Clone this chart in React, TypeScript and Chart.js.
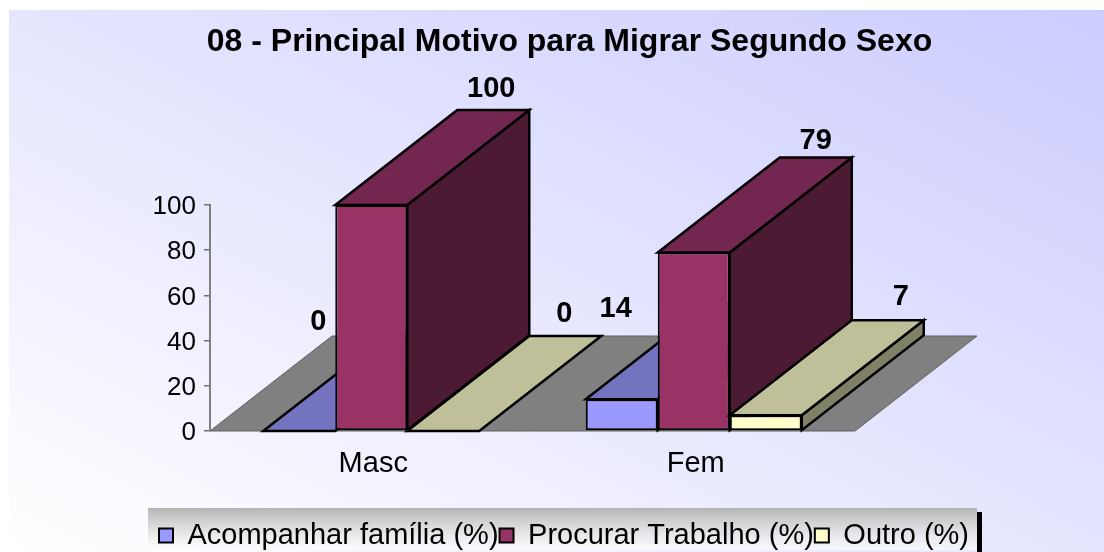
import React, { useEffect, useRef } from "react";
import { Chart, registerables } from "chart.js";

Chart.register(...registerables);

const categories = ["Masc", "Fem"];
const acompanharFamilia = [0, 14];
const procurarTrabalho = [100, 79];
const outro = [0, 7];
const yTicks = [0, 20, 40, 60, 80, 100];

const FONT = "'Liberation Sans', Arial, sans-serif";
const DEPTH_X = 122;
const DEPTH_Y = -95;

// per-dataset label displacement from the top-centre of each bar's front face
const labelNudges = [
  [[19, -109], [-6, -90]],
  [[120, -116], [122, -111]],
  [[121, -117], [135, -118]],
];
const topFaces = ["#7373BF", "#732650", "#BFBF99"];
const sideFaces = ["#4D4D80", "#4D1A33", "#808066"];

function poly(ctx: CanvasRenderingContext2D, pts: number[][], fill: string, stroke: string, lw: number) {
  ctx.beginPath();
  pts.forEach((p, i) => (i ? ctx.lineTo(p[0], p[1]) : ctx.moveTo(p[0], p[1])));
  ctx.closePath();
  ctx.fillStyle = fill;
  ctx.fill();
  ctx.lineWidth = lw;
  ctx.strokeStyle = stroke;
  ctx.lineJoin = "miter";
  ctx.stroke();
}

const backdrop = {
  id: "backdrop",
  beforeDraw(chart: any) {
    const { ctx, width, height } = chart;
    ctx.save();
    ctx.fillStyle = "#FFFFFF";
    ctx.fillRect(0, 0, width, height);
    const g = ctx.createLinearGradient(338, 717, 775, -155);
    g.addColorStop(0, "#FFFFFF");
    g.addColorStop(1, "#CCCCFF");
    ctx.fillStyle = g;
    ctx.fillRect(9, 10, width - 9, height - 10);
    const lg = ctx.createLinearGradient(0, 508, 0, 550);
    lg.addColorStop(0, "rgba(180,180,180,1)");
    lg.addColorStop(1, "rgba(255,255,255,0.6)");
    ctx.fillStyle = lg;
    ctx.fillRect(148, 508, 829, 42);
    ctx.fillStyle = "#000";
    ctx.fillRect(977, 512, 5, 40);
    ctx.restore();
  },
  afterLayout(chart: any) {
    chart.titleBlock.left += 142;
    chart.titleBlock.right += 142;
    const lg = chart.legend;
    const shift = 564 - (lg.left + lg.right) / 2;
    lg.left += shift;
    lg.right += shift;
    const h = lg.bottom - lg.top;
    lg.top = 520;
    lg.bottom = 520 + h;
  },
  beforeDatasetsDraw(chart: any) {
    const { ctx, chartArea: a } = chart;
    ctx.save();
    poly(
      ctx,
      [
        [a.left, a.bottom],
        [a.right, a.bottom],
        [a.right + DEPTH_X, a.bottom + DEPTH_Y],
        [a.left + DEPTH_X, a.bottom + DEPTH_Y],
      ],
      "#808080",
      "#606060",
      1
    );
    // paint left to right, so nearer bars overlap the depth faces of earlier ones
    chart.data.datasets.forEach((_: any, i: number) => {
      const meta = chart.getDatasetMeta(i);
      meta.data.forEach((el: any) => {
        const l = el.x - el.width / 2;
        const r = el.x + el.width / 2;
        const t = el.y;
        const b = el.base;
        if (b > t) {
          poly(ctx, [[r, t], [r + DEPTH_X, t + DEPTH_Y], [r + DEPTH_X, b + DEPTH_Y], [r, b]], sideFaces[i], "#000", 2.5);
        }
        poly(ctx, [[l, t], [r, t], [r + DEPTH_X, t + DEPTH_Y], [l + DEPTH_X, t + DEPTH_Y]], topFaces[i], "#000", 2.5);
      });
      meta.controller.draw();
    });
    ctx.restore();
    return false;
  },
  afterDraw(chart: any) {
    const { ctx } = chart;
    ctx.save();
    ctx.font = `bold 29px ${FONT}`;
    ctx.fillStyle = "#000";
    ctx.textAlign = "center";
    ctx.textBaseline = "middle";
    chart.data.datasets.forEach((ds: any, i: number) => {
      chart.getDatasetMeta(i).data.forEach((el: any, j: number) => {
        const [dx, dy] = labelNudges[i][j];
        ctx.fillText(String(ds.data[j]), el.x + dx, el.y + dy);
      });
    });
    ctx.restore();
  },
};

export default function App() {
  const ref = useRef<HTMLCanvasElement>(null);
  useEffect(() => {
    const chart = new Chart(ref.current!, {
      type: "bar",
      data: {
        labels: categories,
        datasets: [
          { label: "Acompanhar família (%)", data: acompanharFamilia, backgroundColor: "#9999FF" },
          { label: "Procurar Trabalho (%)", data: procurarTrabalho, backgroundColor: "#993366" },
          { label: "Outro (%)", data: outro, backgroundColor: "#FFFFCC" },
        ].map((d) => ({ ...d, borderColor: "#000", borderWidth: 2, borderSkipped: false })),
      },
      plugins: [backdrop],
      options: {
        responsive: false,
        animation: false,
        events: [],
        layout: { padding: { right: 249 } },
        categoryPercentage: 216 / 322.5,
        barPercentage: 1,
        plugins: {
          tooltip: { enabled: false },
          title: {
            display: true,
            text: "08 - Principal Motivo para Migrar Segundo Sexo",
            color: "#000",
            font: { family: FONT, size: 32, weight: "bold" },
            padding: { top: 23, bottom: 143.6 },
          },
          legend: {
            display: true,
            position: "bottom",
            labels: {
              color: "#000",
              font: { family: FONT, size: 29 },
              boxWidth: 14,
              boxHeight: 14,
              padding: 1,
            },
          },
        },
        scales: {
          x: {
            grid: { display: false },
            border: { display: false },
            ticks: { color: "#000", font: { family: FONT, size: 29 }, padding: 8, maxRotation: 0, labelOffset: 2 },
            afterFit(s: any) {
              s.height = 121 - (s.chart.legend?.height ?? 0);
            },
          },
          y: {
            min: 0,
            max: 100,
            grid: { drawOnChartArea: false, color: "#707070", tickLength: 6, lineWidth: 1.5 },
            border: { color: "#808080", width: 2 },
            afterBuildTicks(s: any) {
              s.ticks = yTicks.map((value) => ({ value }));
            },
            ticks: { color: "#000", font: { family: FONT, size: 26 }, padding: 8, labelOffset: 2 },
            afterFit(s: any) {
              s.width = 210;
            },
          },
        },
      } as any,
    });
    return () => chart.destroy();
  }, []);
  return (
    <div style={{ position: "fixed", left: 0, top: 0, width: 1104, height: 552 }}>
      <canvas ref={ref} width={1104} height={552} style={{ display: "block" }} />
    </div>
  );
}
